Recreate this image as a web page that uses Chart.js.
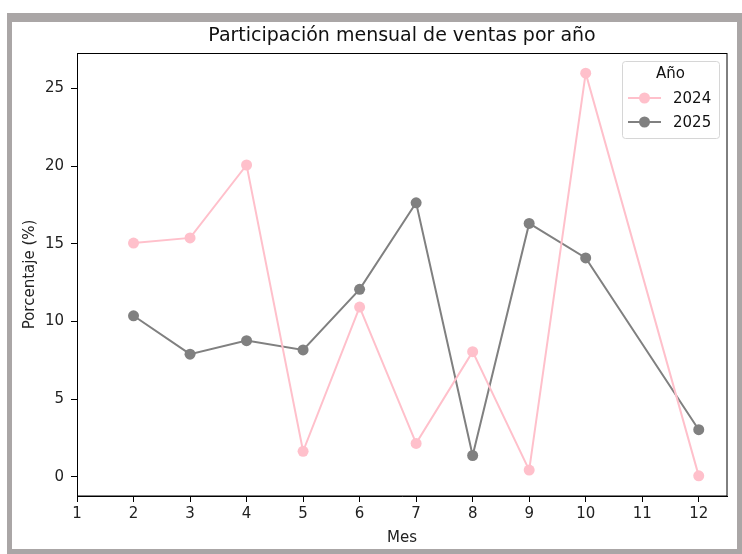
<!DOCTYPE html>
<html>
<head>
<meta charset="utf-8">
<script src="https://cdn.jsdelivr.net/npm/chart.js@4/dist/chart.umd.min.js"></script>
<style>
  html, body { margin: 0; padding: 0; background: #ffffff; }
  #outer { position: absolute; left: 7px; top: 13px; width: 735px; height: 541px; background: #aaa6a6; }
  #inner { position: absolute; left: 12px; top: 22px; width: 725px; height: 527px; background: #ffffff; }
  #wrap { position: absolute; left: 0; top: 0; width: 742px; height: 554px; }
</style>
</head>
<body>
<div id="outer"></div>
<div id="inner"></div>
<div id="wrap"><canvas id="c" width="742" height="554"></canvas></div>
<script>
const chartTitle = "Participación mensual de ventas por año";
const xTitle = "Mes";
const yTitle = "Porcentaje (%)";
const legendTitle = "Año";
const months = [2, 3, 4, 5, 6, 7, 8, 9, 10, 12];
const labels2024 = "2024";
const labels2025 = "2025";
const values2024 = [15.05, 15.38, 20.07, 1.65, 10.93, 2.16, 8.06, 0.44, 25.98, 0.07];
const values2025 = [10.37, 7.90, 8.77, 8.17, 12.07, 17.64, 1.38, 16.31, 14.09, 3.04];
const xTicks = [1, 2, 3, 4, 5, 6, 7, 8, 9, 10, 11, 12];
const yTicks = [0, 5, 10, 15, 20, 25];
const colors = ["#ffc0cb", "#808080"];

const FONT = "'DejaVu Sans', sans-serif";

function toPoints(xs, ys) { return xs.map((x, i) => ({ x: x, y: ys[i] })); }

const allVals = values2024.concat(values2025);
const dMin = Math.min(...allVals), dMax = Math.max(...allVals);
const yMargin = (dMax - dMin) * 0.05;

const framePlugin = {
  id: 'frame',
  afterDraw(chart) {
    const { ctx, chartArea: a } = chart;
    ctx.save();
    ctx.strokeStyle = '#000';
    ctx.lineWidth = 1;
    ctx.strokeRect(Math.round(a.left) + 0.5, Math.round(a.top) + 0.5, Math.round(a.right - a.left) - 1 + 0.5, Math.round(a.bottom - a.top) - 0.5);
    ctx.fillStyle = '#111';
    ctx.font = "19px " + FONT;
    ctx.textAlign = 'center';
    ctx.textBaseline = 'middle';
    ctx.fillText(chartTitle, (a.left + a.right) / 2, 36);
    const bw = 97, bh = 77;
    const bx = a.right - 8 - bw, by = a.top + 8;
    ctx.beginPath();
    if (ctx.roundRect) ctx.roundRect(bx + 0.5, by + 0.5, bw, bh, 3); else ctx.rect(bx + 0.5, by + 0.5, bw, bh);
    ctx.fillStyle = 'rgba(255,255,255,0.8)';
    ctx.fill();
    ctx.strokeStyle = '#d6d6d6';
    ctx.lineWidth = 1;
    ctx.stroke();
    ctx.fillStyle = '#111';
    ctx.font = "15px " + FONT;
    ctx.textAlign = 'center';
    ctx.fillText(legendTitle, bx + bw / 2, by + 13);
    chart.data.datasets.forEach((ds, i) => {
      const y = by + 37 + i * 24;
      const lx0 = bx + 6, lx1 = bx + 39;
      ctx.strokeStyle = ds.borderColor;
      ctx.lineWidth = 2;
      ctx.beginPath();
      ctx.moveTo(lx0, y); ctx.lineTo(lx1, y); ctx.stroke();
      ctx.fillStyle = ds.borderColor;
      ctx.beginPath();
      ctx.arc((lx0 + lx1) / 2, y, 5.5, 0, Math.PI * 2);
      ctx.fill();
      ctx.fillStyle = '#111';
      ctx.textAlign = 'left';
      ctx.fillText(ds.label, bx + 51, y + 1);
    });
    ctx.restore();
  }
};

new Chart(document.getElementById('c'), {
  type: 'line',
  data: {
    datasets: [
      { label: labels2024, data: toPoints(months, values2024), borderColor: colors[0], backgroundColor: colors[0],
        pointBackgroundColor: colors[0], pointBorderWidth: 0, pointRadius: 5.5, borderWidth: 2, tension: 0 },
      { label: labels2025, data: toPoints(months, values2025), borderColor: colors[1], backgroundColor: colors[1],
        pointBackgroundColor: colors[1], pointBorderWidth: 0, pointRadius: 5.5, borderWidth: 2, tension: 0 }
    ]
  },
  options: {
    responsive: false,
    animation: false,
    layout: { padding: { left: 12, right: 15, top: 53, bottom: 7 } },
    plugins: { legend: { display: false }, title: { display: false }, tooltip: { enabled: false } },
    scales: {
      x: {
        type: 'linear',
        min: 1, max: 12.5,
        afterBuildTicks: (s) => { s.ticks = xTicks.map(v => ({ value: v })); },
        afterFit: (s) => { s.height = 51; },
        grid: { drawOnChartArea: false, drawTicks: true, tickLength: 6, color: '#000' },
        border: { display: true, color: '#000', width: 1 },
        ticks: { color: '#222', font: { family: FONT, size: 15 }, padding: 3, maxRotation: 0, autoSkip: false },
        title: { display: true, text: xTitle, color: '#222', font: { family: FONT, size: 15 }, padding: { top: 0, bottom: 0 } }
      },
      y: {
        type: 'linear',
        min: dMin - yMargin, max: dMax + yMargin,
        afterBuildTicks: (s) => { s.ticks = yTicks.map(v => ({ value: v })); },
        afterFit: (s) => { s.width = 65; },
        grid: { drawOnChartArea: false, drawTicks: true, tickLength: 6, color: '#000' },
        border: { display: true, color: '#000', width: 1 },
        ticks: { color: '#222', font: { family: FONT, size: 15 }, padding: 7 },
        title: { display: true, text: yTitle, color: '#222', font: { family: FONT, size: 15 }, padding: { top: 9, bottom: 0 } }
      }
    }
  },
  plugins: [framePlugin]
});
</script>
</body>
</html>
